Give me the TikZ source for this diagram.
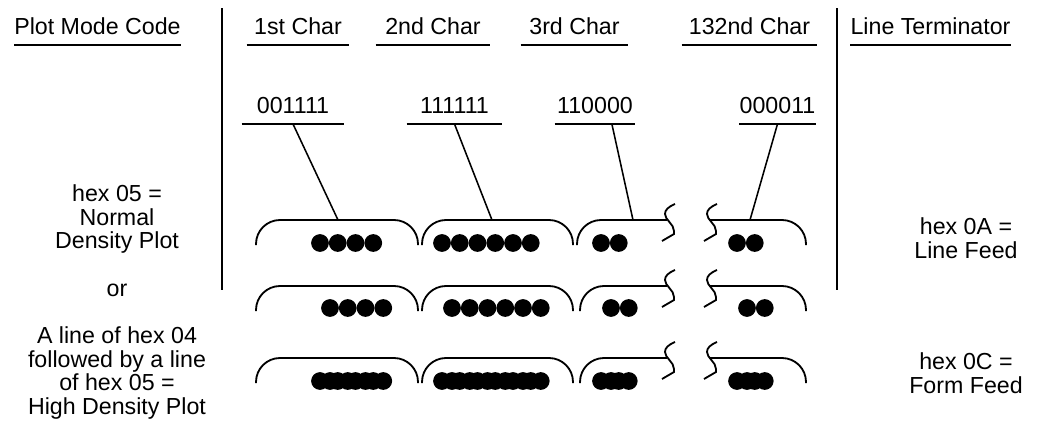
\documentclass[tikz,border=0pt]{standalone}
\usepackage{fontspec}
\setmainfont{Liberation Sans}
\usetikzlibrary{positioning}

\newcommand{\pxu}{0.025cm}
% open box with round top corners: left x, right x, top y
\newcommand{\cbox}[3]{\draw[brk] (#1,#3+25) -- (#1,#3) -- (#2,#3) -- (#2,#3+25);}
% break mark: x, top y
\newcommand{\tear}[2]{\draw[brk, sharp corners] (#1+10,#2-16) .. controls (#1+3,#2-13) and (#1,#2-10) .. (#1,#2-6)
  .. controls (#1,#2) and (#1+9,#2+4) .. (#1+9,#2+11) -- (#1+9,#2+14) -- (#1-3,#2+21);}
% run of touching dots: first x, count, y
\newcommand{\dotrun}[3]{\foreach \k in {1,...,#2} \fill ({#1+(\k-1)*17.75},#3) circle[radius=6.3pt];}

\begin{document}
\begin{tikzpicture}[
    x=\pxu, y=-\pxu,
    font=\fontsize{16.5}{17}\selectfont,
    hd/.style={inner xsep=0pt, inner ysep=0pt, text height=12pt, text depth=7.3pt, anchor=south},
    txt/.style={align=center, inner sep=0pt},
    brk/.style={line width=1.3pt, rounded corners=0.6cm},
    ul/.style={line width=1.3pt},
    ldr/.style={line width=1.1pt}
  ]
    \useasboundingbox (0,0) rectangle (1059,421);
    % column heads
    \node[hd, minimum width=165*\pxu] (pmc) at (97.5,45) {Plot Mode Code};
    \node[hd, minimum width=102*\pxu] (ch1) at (298,45) {1st Char};
    \node[hd, minimum width=114*\pxu] (ch2) at (433,45) {2nd Char};
    \node[hd, minimum width=107*\pxu] (ch3) at (574.5,45) {3rd Char};
    \node[hd, minimum width=135*\pxu] (ch132) at (749.5,45) {132nd Char};
    \node[hd, minimum width=159*\pxu] (term) at (930.5,45) {Line Terminator};
    \node[hd, minimum width=102*\pxu] (bits1) at (293,124) {001111};
    \node[hd, minimum width=95*\pxu] (bits2) at (454.5,124) {111111};
    \node[hd, minimum width=80*\pxu] (bits3) at (595,124) {110000};
    \node[hd, minimum width=75*\pxu] (bits4) at (777.5,124) {000011};
    \foreach \n in {pmc,ch1,ch2,ch3,ch132,term,bits1,bits2,bits3,bits4}
      \draw[ul] (\n.south west) -- (\n.south east);
    \draw[ul] (222,8) -- (222,290);
    \draw[ul] (837,8) -- (837,290);
    % side texts
    \node[txt] (normal) at (117,219) {hex 05 =\\Normal\\Density Plot};
    \node[txt] (alt) at (117,290) {or};
    \node[txt] (high) at (117,373) {A line of hex 04\\followed by a line\\of hex 05 =\\High Density Plot};
    \node[txt] (lf) at (966,238) {hex 0A =\\Line Feed};
    \node[txt] (ff) at (966,373) {hex 0C =\\Form Feed};
    % character cells
    \foreach \t/\a in {220/577, 286/580, 358/580} {
      \cbox{256}{418}{\t}
      \cbox{422}{573}{\t}
      \draw[brk] (\a,\t+25) -- (\a,\t) -- (667,\t);
      \tear{665}{\t}
      \tear{707}{\t}
      \draw[brk] (709,\t) -- (806,\t) -- (806,\t+25);
    }
    \foreach \y/\s in {243/0, 308/10, 381/0, 381/10} {
      \dotrun{320+\s}{4}{\y}
      \dotrun{442+\s}{6}{\y}
      \dotrun{601+\s}{2}{\y}
      \dotrun{737+\s}{2}{\y}
    }
    % leaders
    \coordinate (hit1) at (338,220);
    \coordinate (hit2) at (492,220);
    \coordinate (hit3) at (633,220);
    \coordinate (hit4) at (750,220);
    \draw[ldr] (bits1.south) -- (hit1);
    \draw[ldr] (bits2.south) -- (hit2);
    \draw[ldr] ([xshift=12pt]bits3.south) -- (hit3);
    \draw[ldr] (bits4.south) -- (hit4);
  \end{tikzpicture}
\end{document}
